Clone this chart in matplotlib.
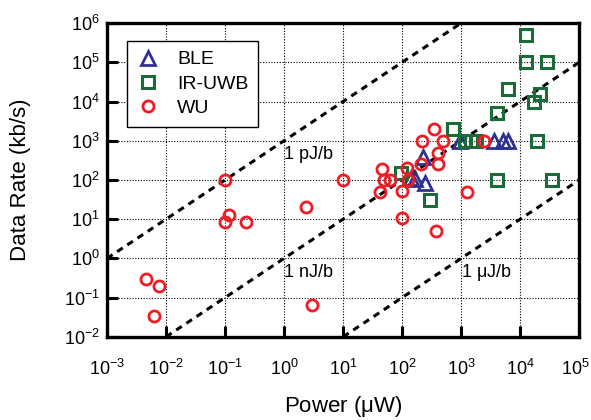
import matplotlib
matplotlib.use("Agg")
import matplotlib.pyplot as plt
import matplotlib.transforms as mtransforms

plt.rcParams["font.family"] = ["Liberation Sans", "DejaVu Sans"]
plt.rcParams["mathtext.default"] = "regular"

# BLE (triangles)
ble_power = [140, 165, 240, 230, 950, 3600, 5100, 6200]
ble_rate = [115, 105, 85, 380, 1000, 1000, 1000, 1000]

# IR-UWB (squares)
uwb_power = [95, 300, 740, 1150, 1450, 1800, 4000, 4000, 6300, 12800, 12600,
             29000, 17500, 21500, 19000, 34000]
uwb_rate = [150, 30, 2000, 1000, 1000, 1000, 5000, 100, 21000, 490000, 100000,
            100000, 10000, 16000, 1000, 100]

# WU (circles)
wu_power = [0.0045, 0.0075, 0.0063, 0.1, 0.115, 0.1, 0.23, 2.4, 3.0, 10,
            45, 50, 63, 43, 100, 100, 120, 125, 210, 220, 350, 400, 400,
            500, 1250, 380, 2400]
wu_rate = [0.3, 0.2, 0.034, 100, 12.5, 8.5, 8.5, 20, 0.065, 100,
           190, 100, 100, 50, 52, 10.5, 200, 100, 255, 1000, 2000, 500, 255,
           1000, 50, 5, 1000]

# energy-per-bit reference lines (power uW, rate kb/s)
pj_x, pj_y = [1e-3, 1e3], [1e0, 1e6]
nj_x, nj_y = [1e-2, 1e5], [1e-2, 1e5]
uj_x, uj_y = [1e1, 1e5], [1e-2, 1e2]

fig = plt.figure(figsize=(5.91, 4.20), dpi=100)
ax = fig.add_axes([0.181, 0.198, 0.799, 0.747])

for lx, ly in [(pj_x, pj_y), (nj_x, nj_y), (uj_x, uj_y)]:
    ax.plot(lx, ly, color="black", lw=2.2, linestyle=(0, (2.2, 1.8)), zorder=2)

ax.plot(ble_power, ble_rate, linestyle="none", marker="^", ms=10, mfc="none",
        mec="#2E3192", mew=2, label="BLE", zorder=3)
ax.plot(uwb_power, uwb_rate, linestyle="none", marker="s", ms=8, mfc="none",
        mec="#1B6B38", mew=2.2, label="IR-UWB", zorder=3)
ax.plot(wu_power, wu_rate, linestyle="none", marker="o", ms=8, mfc="none",
        mec="#EE1C25", mew=2, label="WU", zorder=4)

ax.text(1, 440, "1 pJ/b", fontsize=13, va="center", ha="left")
ax.text(1, 0.43, "1 nJ/b", fontsize=13, va="center", ha="left")
ax.text(1000, 0.43, "1 $\\mu$J/b", fontsize=13, va="center", ha="left")

ax.set_xscale("log")
ax.set_yscale("log")
ax.set_xlim(1e-3, 1e5)
ax.set_ylim(1e-2, 1e6)
ax.set_xticks([10.0 ** k for k in range(-3, 6)])
ax.set_yticks([10.0 ** k for k in range(-2, 7)])
ax.minorticks_off()

ax.grid(True, color="black", linestyle=(0, (1, 1.5)), lw=0.8)
for s in ax.spines.values():
    s.set_linewidth(2.4)
ax.tick_params(which="major", direction="in", length=8, width=2.2,
               labelsize=13, top=False, right=False)
ax.tick_params(axis="x", pad=16)
ax.tick_params(axis="y", pad=5)

ax.set_xlabel("Power ($\\mu$W)", fontsize=16, labelpad=11)
ax.set_ylabel("Data Rate (kb/s)", fontsize=16, labelpad=24)

# last x label sits on the figure edge, nudge it inward a little
fig.canvas.draw()
last = ax.get_xticklabels()[-1]
last.set_transform(last.get_transform() +
                   mtransforms.ScaledTranslation(-4 / 100, 0, fig.dpi_scale_trans))

leg = ax.legend(loc="upper left", bbox_to_anchor=(0.042, 0.943),
                borderaxespad=0, fontsize=14, fancybox=False, framealpha=1,
                edgecolor="black", handlelength=1.2, handletextpad=0.9,
                labelspacing=0.35, borderpad=0.5)
leg.get_frame().set_linewidth(1.0)

fig.savefig("out.png", dpi=100)
